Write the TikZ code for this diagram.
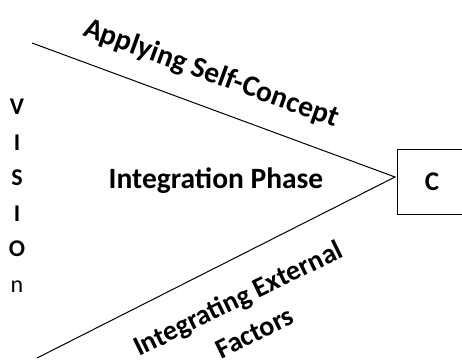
\documentclass[tikz,border=0pt]{standalone}
\usepackage{fontspec}
\setmainfont{Carlito}
\usepackage{tikz}

\begin{document}
\begin{tikzpicture}[x=1pt,y=1pt,
                    line width=1pt,
                    lbl/.style={font=\fontsize{29.5}{38}\selectfont\bfseries,inner sep=0pt,align=center},
                    ltr/.style={font=\fontsize{24}{24}\selectfont\bfseries,inner sep=0pt,anchor=base}]
    \useasboundingbox (0,0) rectangle (462,359);

    % end of the vision
    \node[draw,minimum width=70pt,minimum height=64pt,
          font=\fontsize{27}{27}\selectfont\bfseries](c) at (432,177) {C};
    \coordinate (apex) at (395,182);
    \coordinate (top) at (32,316);
    \coordinate (bot) at (37,1);
    \draw (top) -- (apex) -- (bot);

    \node[lbl,rotate=-20](self) at (211,285) {Applying Self-Concept};
    \node[lbl](phase) at (216,178) {Integration Phase};
    \node[lbl,rotate=26,font=\fontsize{28}{38}\selectfont\bfseries](ext) at (246,44) {Integrating External\\Factors};

    % VISIOn down the left side
    \node[ltr](v1) at (17,244) {V};
    \node[ltr](v2) at (17,208.6) {I};
    \node[ltr](v3) at (17,173.2) {S};
    \node[ltr](v4) at (17,137.8) {I};
    \node[ltr](v5) at (17,102.4) {O};
    \node[ltr,font=\fontsize{24}{24}\selectfont\mdseries](v6) at (17,67) {n};
\end{tikzpicture}
\end{document}
